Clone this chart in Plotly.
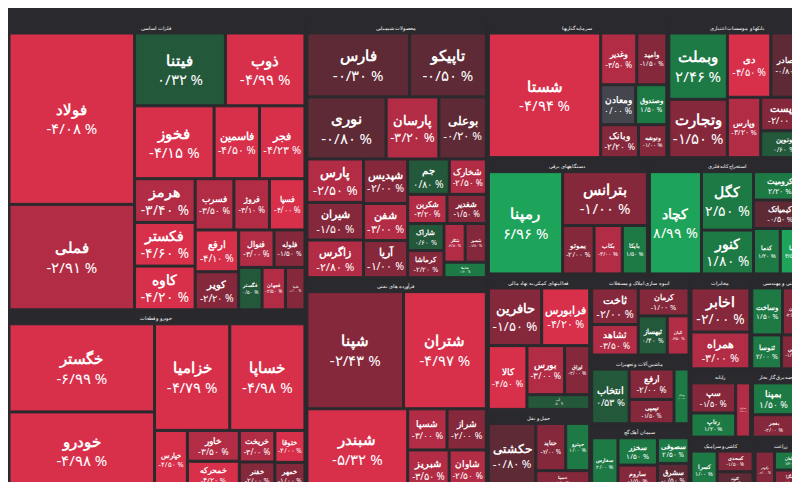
import plotly.graph_objects as go

sectors = ["فلزات اساسی", "خودرو و قطعات", "فرآورده های نفتی", "محصولات شیمیایی", "بانکها و موسسات اعتباری",
           "سرمایه گذاریها", "فعالیتهای کمکی به نهاد مالی", "انبوه سازی املاک و مستغلات", "استخراج کانه فلزی",
           "حمل و نقل", "دستگاههای برقی", "ماشین آلات و تجهیزات", "فنی و مهندسی", "مخابرات", "رایانه", "سیمان آهک گچ",
           "کاشی و سرامیک", "عرضه برق گاز بخار", "زراعت"]

stocks = {
 "فلزات اساسی": [("فولاد",13,-4.08),("فملی",8,-2.91),("فیتنا",4,0.32),("ذوب",3.5,-4.99),("فخوز",3.5,-4.15),
                 ("فاسمین",2,-4.5),("فجر",2,-4.23),("فسرب",1.2,-3.5),("هرمز",1.6,-3.4),("فکستر",1.6,-4.6),
                 ("کاوه",1.6,-4.2),("فروژ",1.1,-3.1),("فسپا",1.1,-4.0),("ارفع",1.1,-4.1),("کویر",1,-2.2),
                 ("فنوال",0.8,-3.0),("فلوله",0.7,-1.5),("فگستر",0.6,0.5),("فجهان",0.6,-2.5),("فاما",0.5,-1.0)],
 "خودرو و قطعات": [("خگستر",8,-6.99),("خزامیا",5,-4.79),("خساپا",5,-4.98),("خودرو",7,-4.98),("خپارس",1.2,-4.5),
                   ("خاور",1,-3.5),("خمحرکه",0.9,-4.2),("خریخت",0.7,-3.0),("خفنر",0.6,-2.0),("ختوقا",0.6,-4.0),("خمهر",0.5,-1.0)],
 "فرآورده های نفتی": [("شپنا",7,-2.43),("شتران",6,-4.97),("شبندر",5,-5.32),("شسپا",1,-3.0),("شراز",1,-2.0),
                      ("شبریز",1,-3.5),("شاوان",0.9,-2.5)],
 "محصولات شیمیایی": [("فارس",4,-0.3),("تاپیکو",3,-0.5),("نوری",3,-0.8),("پارسان",2,-3.2),("بوعلی",1.8,-0.2),
                     ("پارس",1.5,-2.5),("شیران",1.3,-1.5),("زاگرس",1.3,-2.8),("شپدیس",1.2,-2.0),("شفن",1,-3.0),
                     ("آریا",1,-1.0),("شخارک",0.8,-2.5),("جم",0.9,0.8),("شکربن",0.7,-3.2),("شغدیر",0.7,-1.5),
                     ("شاراک",0.6,0.6),("کرماشا",0.6,-2.2),("شکلر",0.5,-2.8),("شاملا",0.4,1.2),("شبصیر",0.5,-1.8)],
 "بانکها و موسسات اعتباری": [("وبملت",2.5,2.46),("وتجارت",2.2,-1.5),("دی",1.8,-4.5),("وبصادر",1.5,-0.8),
                              ("وپارس",1.3,-3.2),("وپست",1,-2.0),("ونوین",0.8,0.6)],
 "سرمایه گذاریها": [("شستا",9,-4.94),("وامید",1,-1.5),("وصندوق",0.8,1.5),("وغدیر",1.2,-3.5),("ومعادن",0.9,0.0),
                    ("وبانک",0.8,-2.2),("وتوشه",0.6,-1.0)],
 "فعالیتهای کمکی به نهاد مالی": [("حافرین",2,-1.5),("فرابورس",1.8,-4.2),("کالا",1.6,-4.5),("بورس",1.2,-3.0),
                                  ("اوراق",0.8,-2.0),("آپ",0.6,0.5)],
 "انبوه سازی املاک و مستغلات": [("ثاخت",1.2,-2.0),("ثشاهد",1,-3.5),("کرمان",1,-1.0),("ثبهساز",0.8,0.4),("ثامان",0.6,-2.5)],
 "استخراج کانه فلزی": [("کچاد",3.5,8.99),("کگل",2,2.5),("کنور",1.5,1.8),("کرومیت",1,2.2),("کیمیاتک",1,-0.5),
                       ("کدما",0.8,1.2),("کاما",0.8,3.5)],
 "حمل و نقل": [("حکشتی",2.2,-0.8),("حتاید",1,-2.0),("حپترو",0.8,1.0),("حسینا",0.7,-1.0)],
 "دستگاههای برقی": [("رمپنا",5,6.96),("بترانس",3,-1.0),("بموتو",1,-2.0),("بکاب",0.9,-3.0),("بایکا",0.8,1.5)],
 "ماشین آلات و تجهیزات": [("انتخاب",1.5,0.53),("ارفع",1,-2.0),("تپمپی",0.8,-1.5),("بهپاک",0.6,1.0)],
 "فنی و مهندسی": [("وساخت",1,1.5),("خاهن",0.8,-2.0),("ثنوسا",0.7,2.0),("وتوس",0.6,-1.0)],
 "مخابرات": [("اخابر",1.8,-2.0),("همراه",1.5,-3.0)],
 "رایانه": [("سپ",1,-1.5),("رتاپ",0.8,1.2),("مداران",0.6,-2.5)],
 "سیمان آهک گچ": [("سفارس",1,2.0),("سخزر",0.8,1.5),("ساروم",0.7,-1.5),("سصوفی",0.6,2.5),("سشرق",0.6,-0.5)],
 "کاشی و سرامیک": [("کسرا",0.8,1.0),("کسعدی",0.6,-1.5),("کلوند",0.5,-0.5)],
 "عرضه برق گاز بخار": [("بمپنا",1,1.5),("بفجر",0.7,-2.0),("بزاگرس",0.5,-1.0)],
 "زراعت": [("زکوثر",0.6,-2.0),("زماهان",0.5,1.2),("زشگزا",0.5,-1.0)],
}

def fa(x):
    s = f"{x:.2f}".replace(".", "/")
    return s.translate(str.maketrans("0123456789", "۰۱۲۳۴۵۶۷۸۹")) + " %"

def color(c):
    if c <= -4: return "#d8304b"
    if c <= -2.5: return "#b22c45"
    if c <= -1: return "#86283b"
    if c < -0.1: return "#5e2a36"
    if c <= 0.1: return "#45454d"
    if c < 1: return "#24583a"
    if c < 3: return "#1e7a45"
    return "#1ea35a"

ids, labels, parents, values, colors, texts = [], [], [], [], [], []
for s in sectors:
    ids.append(s); labels.append(s); parents.append(""); values.append(0)
    colors.append("#2a2a2e"); texts.append("")
    for n, v, c in stocks[s]:
        ids.append(s + "/" + n); labels.append(n); parents.append(s); values.append(v)
        colors.append(color(c)); texts.append(fa(c))

fig = go.Figure(go.Treemap(
    ids=ids, labels=labels, parents=parents, values=values, text=texts,
    marker=dict(colors=colors, line=dict(color="#2a2a2e", width=1), pad=dict(t=13, l=1, r=1, b=1)),
    texttemplate="<b>%{label}</b><br>%{text}", textposition="middle center",
    textfont=dict(family="Noto Sans", color="white", size=15),
    tiling=dict(packing="squarify", pad=2),
    pathbar=dict(visible=False), sort=True,
))
fig.update_layout(width=800, height=482, margin=dict(l=0, r=0, t=0, b=0),
                  paper_bgcolor="#2a2a2e")
fig.write_html("out.html")
